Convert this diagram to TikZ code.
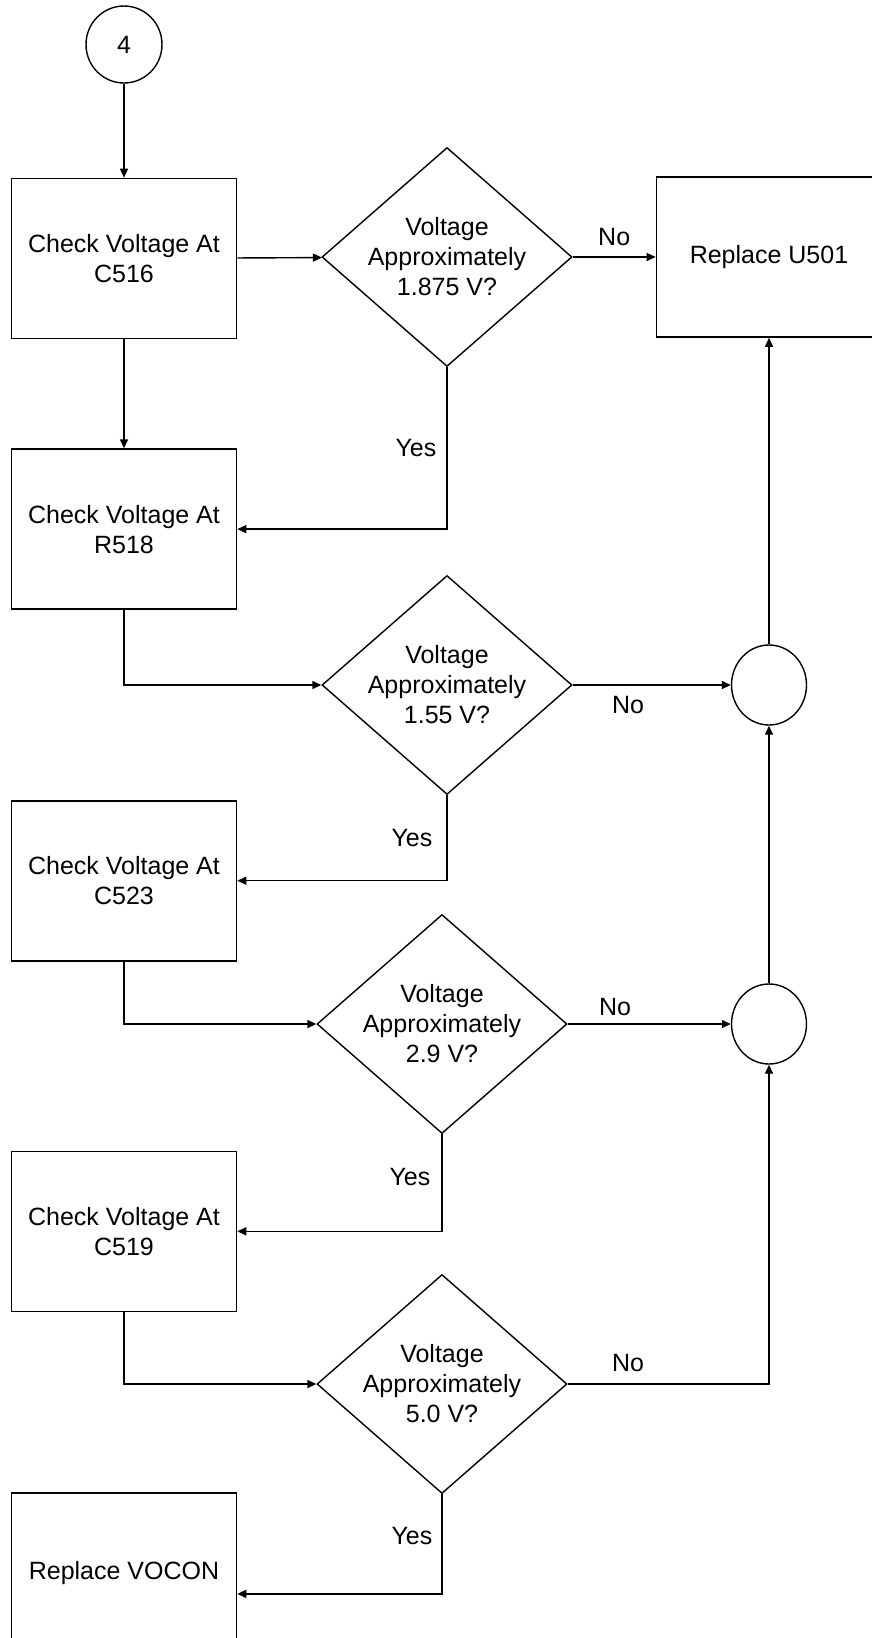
\documentclass[tikz,border=0pt]{standalone}
\usepackage{fontspec}
\setmainfont{Liberation Sans}
\usetikzlibrary{positioning,arrows.meta,shapes.geometric}

\begin{document}
\begin{tikzpicture}[
  x=1pt, y=-1pt,
  font=\fontsize{25}{30}\selectfont,
  box/.style={draw, line width=1.6pt, minimum width=225pt, minimum height=160pt, align=center, inner sep=0pt},
  dec/.style={draw, diamond, aspect=1.14, line width=1.4pt, minimum width=250pt, minimum height=219pt, align=center, inner sep=0pt},
  junc/.style={draw, ellipse, line width=1.4pt, minimum width=75pt, minimum height=80pt, inner sep=0pt},
  arr/.style={-{Triangle[length=9pt, width=8pt]}, line width=1.4pt},
  lbl/.style={inner sep=2pt}]
  \useasboundingbox (0,0) rectangle (871,1638);
  \node[junc, minimum width=76pt, minimum height=77pt] (start) at (124,44.5) {4};
  \node[box, below=94pt of start] (chkA) {Check Voltage At\\C516};
  \node[dec] (qA) at (447,257) {Voltage\\Approximately\\1.875 V?};
  \node[box] (u501) at (769,257) {Replace U501};
  \node[box, below=109pt of chkA] (chkB) {Check Voltage At\\R518};
  \node[dec] (qB) at (447,685) {Voltage\\Approximately\\1.55 V?};
  \node[junc] (jB) at (769,685) {};
  \node[box, below=190pt of chkB] (chkC) {Check Voltage At\\C523};
  \node[dec] (qC) at (442,1024) {Voltage\\Approximately\\2.9 V?};
  \node[junc] (jC) at (769,1024) {};
  \node[box, below=189pt of chkC] (chkD) {Check Voltage At\\C519};
  \node[dec] (qD) at (442,1384) {Voltage\\Approximately\\5.0 V?};
  \node[box, below=180pt of chkD] (vocon) {Replace VOCON};
  % main column
  \draw[arr] (start) -- (chkA);
  \draw[arr] (chkA) -- (qA);
  \draw[arr] (chkA) -- (chkB);
  \draw[arr] (chkB.south) |- (qB.west);
  \draw[arr] (chkC.south) |- (qC.west);
  \draw[arr] (chkD.south) |- (qD.west);
  % yes branches
  \draw[arr] (qA.south) |- node[lbl, pos=0.25, left=8pt]{Yes} (chkB.east);
  \draw[arr] (qB.south) |- node[lbl, pos=0.25, left=12pt]{Yes} (chkC.east);
  \draw[arr] (qC.south) |- node[lbl, pos=0.22, left=9pt]{Yes} (chkD.east);
  \draw[arr] (qD.south) |- node[lbl, pos=0.21, left=7pt]{Yes} ([yshift=-21pt]vocon.east);
  % no branches
  \draw[arr] (qA) -- node[lbl, above=9pt]{No} (u501);
  \draw[arr] (qB) -- node[lbl, pos=0.35, below=9pt]{No} (jB);
  \draw[arr] (qC) -- node[lbl, pos=0.29, above=6pt]{No} (jC);
  \draw[arr] (qD.east) -| node[lbl, pos=0.15, above=10pt]{No} (jC.south);
  \draw[arr] (jC) -- (jB);
  \draw[arr] (jB) -- (u501);
\end{tikzpicture}
\end{document}
